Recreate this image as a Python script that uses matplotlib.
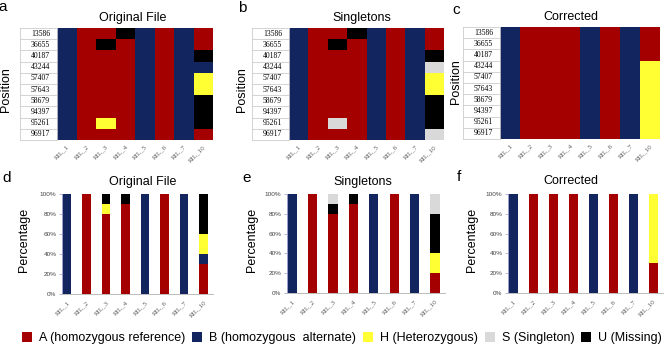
"""Genotype heatmaps (original / singletons / corrected) and per-RIL composition bars."""

import numpy as np
import matplotlib
matplotlib.use("Agg")
import matplotlib.pyplot as plt
from matplotlib.colors import ListedColormap
from matplotlib.patches import Patch

plt.rcParams["font.family"] = ["Liberation Sans", "DejaVu Sans"]

# --- data ----------------------------------------------------------------
positions = ["13586", "36655", "40187", "43244", "57407",
             "57643", "58679", "94397", "95261", "96917"]
rils = ["RIL_1", "RIL_2", "RIL_3", "RIL_4", "RIL_5", "RIL_6", "RIL_7", "RIL_10"]

# one string per RIL, one letter per position (top to bottom)
original = ["BBBBBBBBBB", "AAAAAAAAAA", "AUAAAAAAHA", "UAAAAAAAAA",
            "BBBBBBBBBB", "AAAAAAAAAA", "BBBBBBBBBB", "AAUBHHUUUA"]
singletons = ["BBBBBBBBBB", "AAAAAAAAAA", "AUAAAAAASA", "UAAAAAAAAA",
              "BBBBBBBBBB", "AAAAAAAAAA", "BBBBBBBBBB", "AAUSHHUUUS"]
corrected = ["BBBBBBBBBB", "AAAAAAAAAA", "AAAAAAAAAA", "AAAAAAAAAA",
             "BBBBBBBBBB", "AAAAAAAAAA", "BBBBBBBBBB", "AAAHHHHHHH"]

codes = ["A", "B", "H", "U", "S"]           # stacking order in the bars
colors = ["#a50000", "#13255f", "#ffff33", "#000000", "#d9d9d9"]
legend_codes = ["A", "B", "H", "S", "U"]
legend_labels = ["A (homozygous reference)", "B (homozygous  alternate)",
                 "H (Heterozygous)", "S (Singleton)", "U (Missing)"]
titles = ["Original File", "Singletons", "Corrected"]

W, H = 669, 346
fig = plt.figure(figsize=(W / 100, H / 100), dpi=100)


def px(l, t, r, b):
    return [l / W, 1 - b / H, (r - l) / W, (b - t) / H]


cmap = ListedColormap(colors)
grids = [original, singletons, corrected]

# --- top row: heatmaps ---------------------------------------------------
heat_boxes = [(57, 28, 213, 140), (289, 28, 444, 140), (500, 27, 660, 139)]
label_boxes = [(20, 57), (252, 289), (463, 500)]
for k, grid in enumerate(grids):
    l, t, r, b = heat_boxes[k]
    ax = fig.add_axes(px(l, t, r, b))
    idx = np.array([[codes.index(c) for c in col] for col in grid]).T
    ax.pcolormesh(idx, cmap=cmap, vmin=-0.5, vmax=len(codes) - 0.5)
    ax.set_xlim(0, len(rils))
    ax.set_ylim(len(positions), 0)
    ax.set_xticks(np.arange(len(rils)) + 0.5)
    ax.set_xticklabels(rils, rotation=45, ha="right", rotation_mode="anchor",
                       fontsize=5, color="#555555", family="Liberation Serif")
    ax.tick_params(axis="x", length=0, pad=3)
    ax.set_yticks([])
    for s in ax.spines.values():
        s.set_visible(False)

    # position labels in a boxed column
    ll, lr = label_boxes[k]
    axl = fig.add_axes(px(ll, t, lr, b))
    axl.set_xlim(0, 1)
    axl.set_ylim(len(positions), 0)
    for i, p in enumerate(positions):
        axl.text(0.55, i + 0.5, p, ha="center", va="center", fontsize=5.5,
                 family="Liberation Serif")
        if i > 0:
            axl.axhline(i, color="#cccccc", lw=0.6)
    axl.set_xticks([])
    axl.set_yticks([])
    for s in axl.spines.values():
        s.set_color("#cccccc")
        s.set_linewidth(0.6)

# --- bottom row: stacked percentage bars ---------------------------------
bar_boxes = [(62, 194, 213, 294), (287, 194, 445, 293), (508, 194, 663, 293)]
x = np.arange(len(rils))
for k, grid in enumerate(grids):
    ax = fig.add_axes(px(*bar_boxes[k]))
    bottom = np.zeros(len(rils))
    for c, col in zip(codes, colors):
        pct = np.array([100.0 * g.count(c) / len(g) for g in grid])
        ax.bar(x, pct, bottom=bottom, width=0.45, color=col, linewidth=0)
        bottom += pct
    ax.set_xlim(-0.26, len(rils) - 0.51)
    ax.set_ylim(0, 100)
    ax.set_yticks(np.arange(0, 101, 20))
    ax.set_yticklabels([f"{v}%" for v in range(0, 101, 20)])
    ax.tick_params(axis="y", labelsize=4.6, labelcolor="#444444", length=2,
                   width=0.5, color="#9999cc", pad=2)
    ax.set_xticks(x)
    ax.set_xticklabels(rils, rotation=45, ha="right", rotation_mode="anchor",
                       fontsize=5, color="#555555", family="Liberation Serif")
    ax.tick_params(axis="x", length=0, pad=4)
    ax.spines["top"].set_visible(False)
    ax.spines["right"].set_visible(False)
    ax.spines["left"].set_color("#9999cc")
    ax.spines["left"].set_linewidth(0.7)
    ax.spines["bottom"].set_color("#bbbbbb")
    ax.spines["bottom"].set_linewidth(0.7)

# --- text ----------------------------------------------------------------
for (xc, yc), s in zip([(133, 18), (362, 18), (571, 17)], titles):
    fig.text(xc / W, 1 - yc / H, s, ha="center", va="center", fontsize=9)
for (xc, yc), s in zip([(143, 182), (363, 182), (571, 181)], titles):
    fig.text(xc / W, 1 - yc / H, s, ha="center", va="center", fontsize=9)
for (xc, yc) in [(6, 90), (242, 90), (456, 82)]:
    fig.text(xc / W, 1 - yc / H, "Position", rotation=90,
             ha="center", va="center", fontsize=9)
for (xc, yc) in [(24, 240), (252, 240), (472, 240)]:
    fig.text(xc / W, 1 - yc / H, "Percentage", rotation=90,
             ha="center", va="center", fontsize=9)
for (xc, yc), s in zip([(3, 7), (242, 8), (456, 10),
                        (7, 178), (247, 178), (459, 177)], "abcdef"):
    fig.text(xc / W, 1 - yc / H, s, ha="center", va="center", fontsize=11)

handles = [Patch(facecolor=colors[codes.index(c)], edgecolor="none")
           for c in legend_codes]
fig.legend(handles, legend_labels, ncol=5, loc="center",
           bbox_to_anchor=(342 / W, 1 - 338 / H), frameon=False, fontsize=9,
           handlelength=0.8, handleheight=0.85, handletextpad=0.55,
           columnspacing=0.55, borderpad=0, borderaxespad=0)

fig.savefig("out.png", dpi=100)
